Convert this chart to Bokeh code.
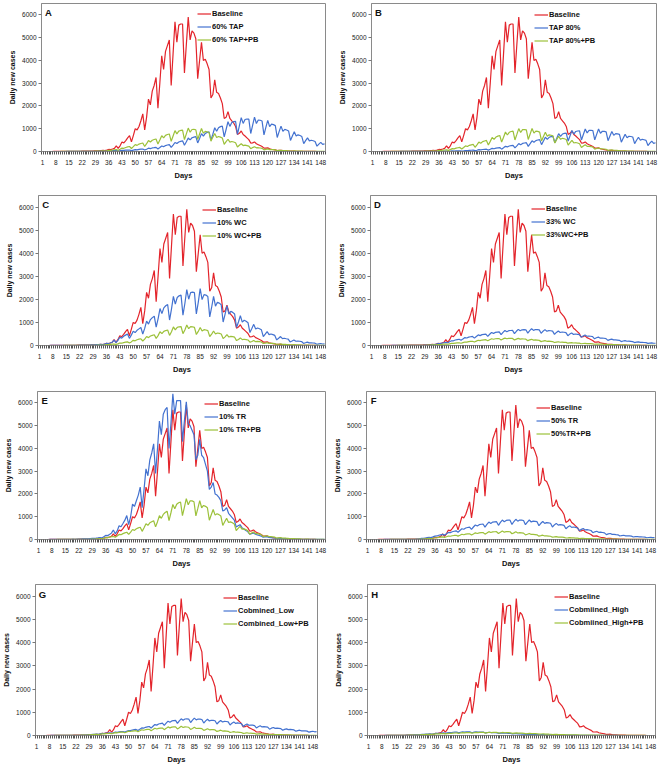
from bokeh.plotting import figure
from bokeh.models import Range1d, FixedTicker, Legend, LegendItem, Label
from bokeh.layouts import column, row
from bokeh.embed import file_html
from bokeh.resources import INLINE

# ---------------- data (daily new cases, days 1..150) ----------------
tick_days = [1, 8, 15, 22, 29, 36, 43, 50, 57, 64, 71, 78, 85, 92, 99, 106, 113, 120, 127, 134, 141, 148]
y_ticks = [0, 1000, 2000, 3000, 4000, 5000, 6000]

baseline = [
    0, 0, 1, 1, 1, 1, 2, 3, 3, 4,
    4, 5, 4, 6, 8, 8, 9, 10, 11, 9,
    12, 15, 15, 17, 19, 21, 18, 24, 32, 32,
    36, 42, 50, 40, 60, 90, 85, 110, 140, 250,
    140, 250, 420, 380, 480, 600, 700, 420, 700, 1000,
    950, 1100, 1350, 1650, 950, 1500, 2300, 2050, 2650, 2900,
    3250, 1900, 3000, 4200, 3600, 4400, 4650, 4900, 2900, 4300,
    5700, 4800, 5550, 5600, 5600, 3450, 4700, 5900, 4900, 5300,
    5200, 4950, 3200, 4000, 4800, 4000, 4050, 3850, 3600, 2350,
    2500, 3150, 2600, 2550, 2350, 2100, 1450, 1500, 1750, 1450,
    1350, 1250, 1100, 750, 800, 900, 750, 680, 600, 520,
    370, 380, 420, 340, 300, 260, 220, 150, 150, 160,
    120, 100, 85, 70, 45, 50, 55, 40, 33, 28,
    22, 14, 15, 16, 12, 10, 8, 6, 4, 4,
    5, 3, 3, 2, 2, 1, 1, 1, 1, 1]

tap60 = [
    0, 0, 0, 0, 0, 0, 0, 1, 1, 1,
    1, 1, 1, 2, 2, 2, 3, 3, 3, 3,
    4, 5, 5, 6, 7, 8, 8, 10, 11, 12,
    14, 15, 17, 13, 22, 31, 29, 35, 39, 42,
    25, 39, 55, 48, 57, 62, 66, 39, 60, 84,
    75, 93, 101, 107, 64, 102, 146, 129, 156, 168,
    181, 109, 172, 242, 212, 260, 284, 302, 180, 281,
    396, 348, 418, 447, 468, 276, 427, 591, 510, 603,
    634, 653, 378, 575, 784, 673, 795, 836, 861, 499,
    762, 1044, 891, 1044, 1092, 1115, 640, 966, 1308, 1104,
    1273, 1310, 1323, 752, 1122, 1490, 1233, 1404, 1428, 1425,
    790, 1151, 1508, 1231, 1383, 1373, 1337, 733, 1056, 1366,
    1093, 1202, 1180, 1136, 615, 874, 1116, 887, 969, 945,
    903, 485, 683, 865, 681, 732, 701, 657, 346, 476,
    596, 464, 495, 470, 437, 232, 323, 403, 313, 333]

tap60_pb = [
    0, 0, 0, 0, 0, 0, 1, 1, 1, 1,
    2, 2, 2, 3, 3, 3, 4, 4, 5, 5,
    6, 6, 7, 8, 9, 10, 10, 12, 14, 15,
    18, 22, 26, 20, 34, 54, 52, 67, 76, 83,
    57, 99, 150, 140, 177, 200, 218, 133, 213, 302,
    269, 327, 353, 372, 220, 343, 479, 416, 495, 525,
    551, 325, 502, 694, 598, 707, 746, 770, 447, 680,
    918, 773, 894, 924, 936, 525, 775, 1028, 850, 967,
    970, 955, 529, 770, 1008, 806, 886, 869, 836, 452,
    632, 793, 618, 661, 630, 593, 313, 434, 538, 414,
    441, 418, 387, 201, 272, 338, 261, 277, 260, 239,
    125, 172, 211, 160, 166, 155, 141, 72, 95, 112,
    85, 87, 80, 71, 35, 47, 56, 41, 42, 37,
    33, 17, 22, 26, 18, 19, 17, 15, 7, 9,
    10, 7, 7, 6, 5, 3, 4, 4, 3, 3]

tap80 = [
    0, 0, 0, 0, 0, 0, 0, 0, 0, 1,
    1, 1, 1, 1, 1, 2, 2, 2, 2, 2,
    3, 3, 3, 3, 4, 4, 4, 5, 5, 5,
    6, 6, 7, 5, 8, 11, 10, 12, 14, 16,
    10, 16, 25, 22, 28, 32, 34, 21, 32, 45,
    40, 50, 55, 58, 35, 56, 81, 72, 87, 95,
    102, 61, 97, 137, 120, 148, 162, 173, 103, 162,
    228, 201, 241, 258, 270, 160, 248, 345, 298, 354,
    374, 387, 225, 343, 470, 405, 478, 504, 520, 302,
    459, 627, 534, 624, 651, 666, 383, 578, 784, 662,
    768, 794, 805, 459, 689, 921, 767, 880, 901, 905,
    507, 746, 988, 815, 926, 932, 921, 513, 750, 986,
    799, 890, 886, 865, 476, 683, 883, 710, 786, 777,
    753, 411, 588, 757, 607, 670, 659, 636, 346, 493,
    625, 493, 535, 517, 489, 261, 366, 459, 359, 385]

tap80_pb = [
    0, 0, 0, 0, 0, 0, 1, 1, 1, 1,
    2, 2, 2, 3, 3, 3, 4, 4, 5, 5,
    6, 6, 7, 8, 9, 10, 10, 12, 13, 15,
    18, 21, 25, 18, 30, 47, 45, 58, 66, 73,
    49, 83, 125, 116, 146, 164, 179, 109, 173, 246,
    221, 270, 294, 312, 186, 292, 412, 361, 433, 462,
    487, 288, 445, 618, 534, 636, 676, 703, 411, 629,
    856, 725, 844, 878, 894, 506, 751, 1004, 835, 957,
    962, 948, 527, 768, 1008, 810, 894, 882, 853, 464,
    660, 842, 670, 732, 714, 686, 371, 527, 672, 534,
    578, 559, 528, 281, 391, 486, 375, 397, 374, 343,
    179, 243, 296, 223, 229, 214, 196, 100, 133, 157,
    118, 121, 109, 96, 46, 62, 74, 54, 54, 47,
    43, 21, 28, 32, 23, 23, 20, 17, 8, 10,
    12, 8, 8, 7, 6, 3, 4, 5, 3, 3]

wc10 = [
    0, 0, 1, 1, 1, 1, 2, 3, 3, 4,
    4, 5, 4, 6, 7, 7, 8, 9, 10, 8,
    11, 13, 13, 14, 15, 17, 14, 24, 30, 30,
    36, 42, 50, 38, 60, 90, 85, 110, 140, 230,
    130, 220, 360, 320, 400, 450, 500, 310, 450, 620,
    560, 660, 720, 780, 500, 740, 1053, 929, 1123, 1208,
    1269, 800, 1156, 1602, 1380, 1633, 1722, 1778, 1104, 1573,
    2128, 1794, 2080, 2153, 2184, 1314, 1819, 2419, 2006, 2288,
    2310, 2288, 1364, 1870, 2464, 1987, 2205, 2184, 2122, 1240,
    1658, 2128, 1702, 1872, 1838, 1764, 1018, 1350, 1718, 1362,
    1481, 1436, 1364, 779, 1020, 1288, 1012, 1092, 1050, 988,
    562, 733, 916, 712, 759, 727, 680, 382, 491, 605,
    469, 499, 473, 437, 242, 313, 388, 298, 314, 294,
    275, 154, 197, 242, 184, 196, 185, 171, 94, 119,
    147, 112, 118, 109, 99, 55, 71, 86, 65, 68]

wc10_pb = [
    0, 0, 0, 0, 0, 0, 0, 1, 1, 1,
    1, 1, 1, 2, 2, 2, 2, 3, 3, 3,
    4, 4, 5, 5, 6, 6, 6, 8, 9, 10,
    12, 15, 18, 14, 21, 36, 36, 48, 56, 62,
    47, 71, 108, 99, 125, 143, 158, 109, 156, 224,
    202, 250, 273, 291, 195, 275, 390, 342, 412, 441,
    466, 309, 428, 596, 515, 612, 647, 670, 437, 595,
    804, 677, 784, 811, 822, 514, 672, 885, 727, 822,
    811, 784, 478, 610, 784, 626, 686, 672, 645, 390,
    493, 627, 497, 541, 525, 499, 299, 374, 470, 368,
    397, 382, 360, 213, 264, 329, 256, 272, 258, 239,
    142, 175, 217, 167, 177, 166, 152, 87, 104, 123,
    94, 98, 90, 81, 46, 55, 67, 51, 52, 47,
    44, 25, 30, 36, 26, 26, 23, 20, 11, 14,
    16, 12, 11, 11, 9, 5, 7, 8, 6, 6]

wc33 = [
    0, 0, 0, 0, 0, 0, 1, 1, 1, 1,
    1, 2, 2, 2, 2, 3, 3, 3, 4, 4,
    4, 5, 5, 6, 7, 8, 9, 11, 14, 17,
    22, 27, 34, 37, 57, 79, 85, 105, 119, 133,
    120, 162, 203, 204, 237, 255, 271, 227, 287, 342,
    326, 363, 379, 392, 320, 393, 458, 429, 470, 484,
    494, 398, 486, 563, 524, 569, 581, 588, 470, 570,
    651, 598, 643, 651, 653, 515, 616, 698, 636, 680,
    684, 681, 538, 642, 728, 656, 692, 688, 677, 528,
    619, 689, 617, 647, 639, 624, 483, 566, 629, 563,
    585, 573, 555, 426, 494, 544, 481, 499, 486, 469,
    358, 414, 454, 400, 412, 400, 384, 291, 334, 364,
    318, 325, 313, 298, 224, 257, 278, 243, 247, 237,
    226, 171, 196, 212, 184, 187, 179, 169, 126, 143,
    154, 134, 136, 130, 122, 92, 105, 112, 97, 98]

wc33_pb = [
    0, 0, 0, 0, 0, 0, 0, 1, 1, 1,
    1, 1, 1, 1, 2, 2, 2, 2, 2, 3,
    3, 3, 4, 4, 5, 6, 7, 9, 10, 12,
    15, 19, 23, 25, 33, 43, 44, 52, 57, 61,
    54, 72, 90, 89, 103, 111, 118, 99, 125, 150,
    146, 165, 175, 184, 152, 190, 225, 213, 237, 247,
    253, 205, 251, 291, 272, 293, 297, 298, 237, 285,
    321, 291, 309, 309, 306, 237, 277, 308, 275, 288,
    282, 273, 210, 243, 268, 235, 241, 233, 222, 168,
    193, 210, 183, 187, 180, 172, 130, 149, 162, 141,
    144, 139, 133, 100, 114, 124, 109, 111, 107, 102,
    77, 87, 94, 81, 82, 78, 73, 55, 62, 66,
    56, 57, 54, 49, 36, 40, 43, 36, 35, 33,
    31, 22, 25, 26, 21, 21, 19, 17, 12, 13,
    14, 12, 11, 10, 10, 7, 8, 9, 7, 7]

tr10 = [
    0, 0, 1, 1, 1, 1, 2, 3, 4, 4,
    5, 6, 5, 7, 9, 10, 11, 12, 14, 11,
    16, 20, 21, 24, 27, 30, 26, 38, 50, 52,
    60, 70, 85, 70, 120, 180, 170, 220, 280, 420,
    250, 380, 600, 560, 700, 850, 1050, 650, 1000, 1550,
    1450, 1700, 1950, 2300, 1400, 2200, 3100, 2800, 3500, 3800,
    4200, 2900, 4000, 5200, 4600, 5500, 5700, 5800, 4000, 5100,
    6400, 5500, 6100, 6100, 6100, 4300, 5200, 6050, 5100, 5000,
    4800, 4600, 3500, 3700, 4400, 3700, 3600, 3300, 3000, 2200,
    2300, 2500, 2000, 1950, 1850, 1700, 1250, 1300, 1400, 1150,
    1050, 950, 850, 550, 600, 650, 520, 460, 400, 350,
    230, 260, 290, 230, 200, 175, 150, 100, 110, 125,
    95, 85, 75, 65, 40, 48, 55, 40, 35, 30,
    26, 16, 20, 23, 17, 15, 13, 11, 7, 8,
    9, 7, 6, 5, 5, 3, 3, 4, 3, 2]

tr10_pb = [
    0, 0, 0, 0, 0, 0, 1, 1, 1, 1,
    2, 2, 2, 3, 3, 3, 4, 4, 5, 5,
    6, 7, 8, 9, 10, 11, 12, 14, 17, 20,
    25, 32, 40, 34, 52, 81, 82, 105, 121, 134,
    100, 155, 222, 210, 258, 291, 319, 221, 322, 440,
    400, 474, 510, 536, 358, 513, 693, 623, 731, 780,
    824, 553, 783, 1045, 930, 1102, 1186, 1246, 832, 1175,
    1540, 1349, 1545, 1612, 1648, 1047, 1409, 1793, 1525, 1700,
    1695, 1658, 1034, 1366, 1705, 1395, 1494, 1456, 1391, 845,
    1088, 1320, 1070, 1133, 1092, 1030, 618, 783, 935, 744,
    775, 732, 676, 395, 487, 576, 454, 466, 433, 391,
    230, 285, 332, 257, 258, 239, 216, 124, 148, 165,
    128, 130, 119, 105, 59, 72, 84, 64, 64, 57,
    52, 30, 36, 41, 30, 29, 26, 23, 12, 15,
    17, 13, 12, 11, 10, 6, 7, 8, 6, 6]

tr50 = [
    0, 0, 0, 0, 0, 1, 1, 1, 1, 2,
    2, 2, 2, 3, 3, 4, 4, 5, 5, 5,
    6, 7, 8, 10, 12, 15, 19, 34, 46, 49,
    66, 80, 94, 85, 114, 150, 155, 185, 206, 224,
    194, 251, 306, 299, 340, 363, 381, 317, 397, 471,
    450, 503, 527, 547, 448, 549, 638, 596, 651, 670,
    679, 546, 663, 764, 708, 764, 777, 781, 622, 751,
    854, 782, 838, 847, 847, 664, 789, 888, 805, 855,
    849, 834, 650, 766, 856, 768, 808, 799, 783, 608,
    713, 792, 708, 742, 731, 712, 549, 640, 708, 631,
    655, 641, 620, 475, 551, 603, 532, 548, 531, 510,
    387, 445, 484, 423, 433, 416, 396, 298, 338, 364,
    316, 321, 307, 290, 216, 245, 263, 227, 229, 216,
    205, 154, 174, 186, 160, 163, 156, 147, 110, 124,
    133, 114, 115, 109, 102, 77, 87, 94, 81, 82]

tr50_pb = [
    0, 0, 0, 0, 0, 0, 1, 1, 1, 1,
    1, 1, 2, 2, 2, 2, 3, 3, 3, 3,
    4, 4, 5, 6, 8, 10, 10, 18, 22, 24,
    32, 38, 46, 41, 56, 77, 77, 93, 104, 113,
    94, 121, 154, 144, 165, 177, 185, 148, 186, 231,
    209, 233, 243, 249, 195, 240, 293, 263, 290, 302,
    305, 236, 286, 345, 307, 334, 341, 342, 262, 316,
    372, 323, 344, 345, 340, 251, 292, 337, 286, 299,
    291, 278, 203, 233, 264, 221, 227, 218, 206, 148,
    168, 189, 156, 159, 151, 142, 102, 115, 129, 106,
    107, 102, 95, 67, 74, 84, 68, 69, 64, 60,
    42, 47, 52, 42, 41, 40, 36, 26, 28, 31,
    25, 25, 24, 22, 15, 17, 20, 16, 16, 14,
    13, 10, 11, 12, 10, 9, 9, 8, 6, 6,
    7, 6, 6, 5, 4, 3, 3, 4, 3, 3]

comb_low = [
    0, 0, 0, 0, 1, 1, 1, 1, 2, 2,
    2, 3, 3, 3, 4, 4, 5, 5, 6, 6,
    7, 8, 9, 11, 14, 16, 17, 27, 33, 39,
    46, 52, 58, 54, 71, 88, 86, 99, 106, 112,
    94, 120, 143, 138, 155, 165, 173, 144, 181, 214,
    208, 235, 249, 261, 216, 274, 327, 314, 352, 371,
    388, 320, 399, 471, 446, 494, 515, 530, 432, 532,
    616, 574, 626, 643, 653, 520, 627, 717, 660, 711,
    713, 708, 557, 663, 749, 673, 709, 702, 690, 536,
    629, 700, 627, 657, 649, 636, 494, 581, 648, 582,
    610, 602, 588, 454, 532, 586, 520, 540, 527, 510,
    390, 452, 496, 438, 453, 443, 428, 328, 380, 417,
    369, 381, 371, 357, 272, 315, 347, 307, 317, 309,
    298, 227, 262, 287, 252, 260, 251, 241, 182, 209,
    228, 200, 205, 198, 189, 144, 166, 182, 160, 165]

comb_low_pb = [
    0, 0, 0, 0, 0, 1, 1, 1, 1, 1,
    2, 2, 2, 3, 3, 3, 4, 4, 5, 5,
    6, 7, 8, 10, 12, 14, 13, 21, 28, 34,
    42, 47, 51, 43, 56, 73, 69, 80, 87, 93,
    76, 99, 125, 117, 134, 144, 150, 120, 151, 187,
    171, 192, 202, 208, 164, 203, 249, 225, 249, 260,
    266, 207, 255, 310, 278, 307, 318, 323, 251, 307,
    370, 328, 358, 368, 371, 281, 335, 396, 346, 371,
    366, 354, 262, 305, 352, 300, 313, 308, 297, 218,
    253, 290, 246, 255, 250, 239, 175, 201, 229, 192,
    198, 191, 181, 131, 149, 168, 140, 143, 137, 129,
    93, 105, 118, 97, 98, 94, 88, 62, 70, 77,
    63, 64, 60, 56, 39, 44, 48, 39, 39, 36,
    34, 24, 27, 30, 24, 24, 22, 20, 14, 16,
    18, 15, 15, 14, 12, 9, 10, 11, 9, 9]

comb_high = [
    0, 0, 0, 0, 0, 0, 1, 1, 1, 2,
    2, 3, 3, 4, 4, 5, 6, 7, 8, 8,
    12, 15, 15, 19, 26, 28, 27, 36, 45, 49,
    57, 63, 69, 61, 76, 92, 89, 98, 105, 112,
    93, 110, 126, 120, 139, 142, 145, 118, 141, 161,
    146, 155, 155, 153, 120, 142, 160, 144, 149, 144,
    141, 110, 128, 141, 121, 125, 121, 116, 89, 100,
    110, 97, 98, 94, 87, 66, 77, 82, 72, 67,
    63, 60, 45, 50, 54, 47, 47, 44, 41, 30,
    34, 38, 33, 33, 30, 28, 21, 24, 26, 21,
    20, 19, 18, 13, 15, 15, 13, 13, 12, 10,
    8, 9, 10, 8, 7, 7, 6, 5, 5, 5,
    4, 4, 4, 3, 2, 3, 3, 2, 2, 2,
    2, 1, 1, 1, 1, 1, 1, 1, 1, 1,
    1, 0, 0, 0, 0, 0, 0, 0, 0, 0]

comb_high_pb = [
    0, 0, 0, 0, 0, 0, 1, 1, 1, 1,
    2, 2, 2, 3, 3, 4, 5, 6, 7, 6,
    9, 12, 12, 16, 21, 22, 19, 27, 35, 39,
    46, 50, 53, 45, 57, 68, 66, 74, 79, 82,
    67, 80, 92, 89, 103, 107, 110, 90, 108, 123,
    113, 121, 123, 126, 100, 119, 135, 123, 133, 134,
    133, 104, 124, 139, 126, 134, 133, 131, 102, 119,
    132, 118, 124, 121, 117, 90, 105, 115, 101, 103,
    100, 95, 73, 83, 91, 80, 81, 78, 74, 56,
    65, 72, 62, 63, 57, 54, 41, 47, 49, 41,
    41, 40, 38, 28, 31, 33, 28, 28, 26, 25,
    18, 21, 22, 19, 19, 18, 16, 12, 13, 14,
    12, 12, 11, 10, 7, 8, 9, 7, 7, 6,
    6, 4, 5, 5, 4, 4, 3, 3, 2, 3,
    3, 2, 2, 2, 2, 1, 1, 1, 1, 1]

panel_letters = ["A", "B", "C", "D", "E", "F", "G", "H"]
blue_labels = ["60% TAP", "TAP 80%", "10% WC", "33% WC", "10% TR", "50% TR", "Cobmined_Low", "Cobmiined_High"]
green_labels = ["60% TAP+PB", "TAP 80%+PB", "10% WC+PB", "33%WC+PB", "10% TR+PB", "50%TR+PB", "Combined_Low+PB", "Cobmiined_High+PB"]
blue_series = [tap60, tap80, wc10, wc33, tr10, tr50, comb_low, comb_high]
green_series = [tap60_pb, tap80_pb, wc10_pb, wc33_pb, tr10_pb, tr50_pb, comb_low_pb, comb_high_pb]

# ---------------- styling / layout ----------------
RED = "#E3242B"
BLUE = "#4372D0"
GREEN = "#9CC13A"
FONT = "Liberation Sans"

row_h = [182, 194, 194, 196]
row_bt = [3, 13, 15, 14]
row_bb = [22, 23, 23, 24]
pan_lb = [41, 40, 38, 39, 37, 35, 32, 36]
pan_rb = [6, 6, 6, 6, 6, 7, 14, 7]
leg_x = [156, 163, 164, 161, 167, 170, 188, 187]
leg_c = [10, 11.7, 13, 12, 11.3, 15, 11.7, 10]
LEG_FIX = 9
Y_MAX = 6500


def make_panel(i):
    r = i // 2
    w = 331
    h = row_h[r]
    bt, bb = row_bt[r], row_bb[r]
    lb, rb = pan_lb[i], pan_rb[i]
    frame_h = h - bt - bb
    p = figure(width=w, height=h, output_backend="svg", toolbar_location=None,
               x_range=Range1d(0.5, 150.5), y_range=Range1d(0, Y_MAX),
               min_border_left=lb, min_border_right=rb,
               min_border_top=bt, min_border_bottom=bb)
    p.xgrid.visible = False
    p.ygrid.visible = False
    p.outline_line_color = "#8a8a8a"
    p.outline_line_width = 1
    p.background_fill_color = "white"
    p.border_fill_color = "white"

    xa = p.xaxis[0]
    xa.ticker = FixedTicker(ticks=tick_days, minor_ticks=[d + 0.5 for d in range(0, 151)])
    xa.major_tick_out = 0
    xa.major_tick_in = 0
    xa.minor_tick_out = 3
    xa.minor_tick_in = 0
    xa.minor_tick_line_color = "#555555"
    xa.axis_line_color = "#8a8a8a"
    xa.major_label_standoff = 5
    xa.major_label_text_font = FONT
    xa.major_label_text_font_size = "6.5px"
    xa.major_label_text_color = "#222222"
    xa.axis_label = "Days"
    xa.axis_label_text_font = FONT
    xa.axis_label_text_font_size = "7.5px"
    xa.axis_label_text_font_style = "bold"
    xa.axis_label_text_color = "#111111"
    xa.axis_label_standoff = 3

    ya = p.yaxis[0]
    ya.ticker = FixedTicker(ticks=y_ticks)
    ya.major_tick_out = 3
    ya.major_tick_in = 0
    ya.minor_tick_out = 0
    ya.minor_tick_in = 0
    ya.major_tick_line_color = "#777777"
    ya.axis_line_color = "#8a8a8a"
    ya.major_label_standoff = 2
    ya.major_label_text_font = FONT
    ya.major_label_text_font_size = "6.5px"
    ya.major_label_text_color = "#222222"
    ya.axis_label = "Daily new cases"
    ya.axis_label_text_font = FONT
    ya.axis_label_text_font_size = "7px"
    ya.axis_label_text_font_style = "bold"
    ya.axis_label_text_color = "#111111"
    ya.axis_label_standoff = 3

    b = blue_series[i]
    g = green_series[i]
    r_red = p.line(list(range(1, len(baseline) + 1)), baseline, line_color=RED, line_width=1.2)
    r_blue = p.line(list(range(1, len(b) + 1)), b, line_color=BLUE, line_width=1.2)
    r_green = p.line(list(range(1, len(g) + 1)), g, line_color=GREEN, line_width=1.2)

    leg_h = 3 * 11 + 2 * 2
    vy = frame_h - (leg_c[i] - 5.5) - leg_h - LEG_FIX
    legend = Legend(items=[LegendItem(label="Baseline", renderers=[r_red]),
                           LegendItem(label=blue_labels[i], renderers=[r_blue]),
                           LegendItem(label=green_labels[i], renderers=[r_green])],
                    location=(leg_x[i], vy), orientation="vertical",
                    glyph_width=14, glyph_height=11, label_height=11, label_width=10,
                    label_standoff=1, spacing=2, padding=0, margin=0,
                    border_line_color=None, background_fill_alpha=0,
                    label_text_font=FONT, label_text_font_size="7.5px",
                    label_text_font_style="bold", label_text_color="#111111")
    p.add_layout(legend)

    letter_y = Y_MAX - 10 * Y_MAX / frame_h
    p.add_layout(Label(x=4.2, y=letter_y, text=panel_letters[i], text_font=FONT,
                       text_font_size="9.5px", text_font_style="bold",
                       text_align="center", text_baseline="middle", text_color="#111111"))
    return p


panels = [make_panel(i) for i in range(8)]
layout = column(row(panels[0], panels[1]), row(panels[2], panels[3]),
                row(panels[4], panels[5]), row(panels[6], panels[7]))

open("out.html", "w").write(file_html(layout, INLINE))
